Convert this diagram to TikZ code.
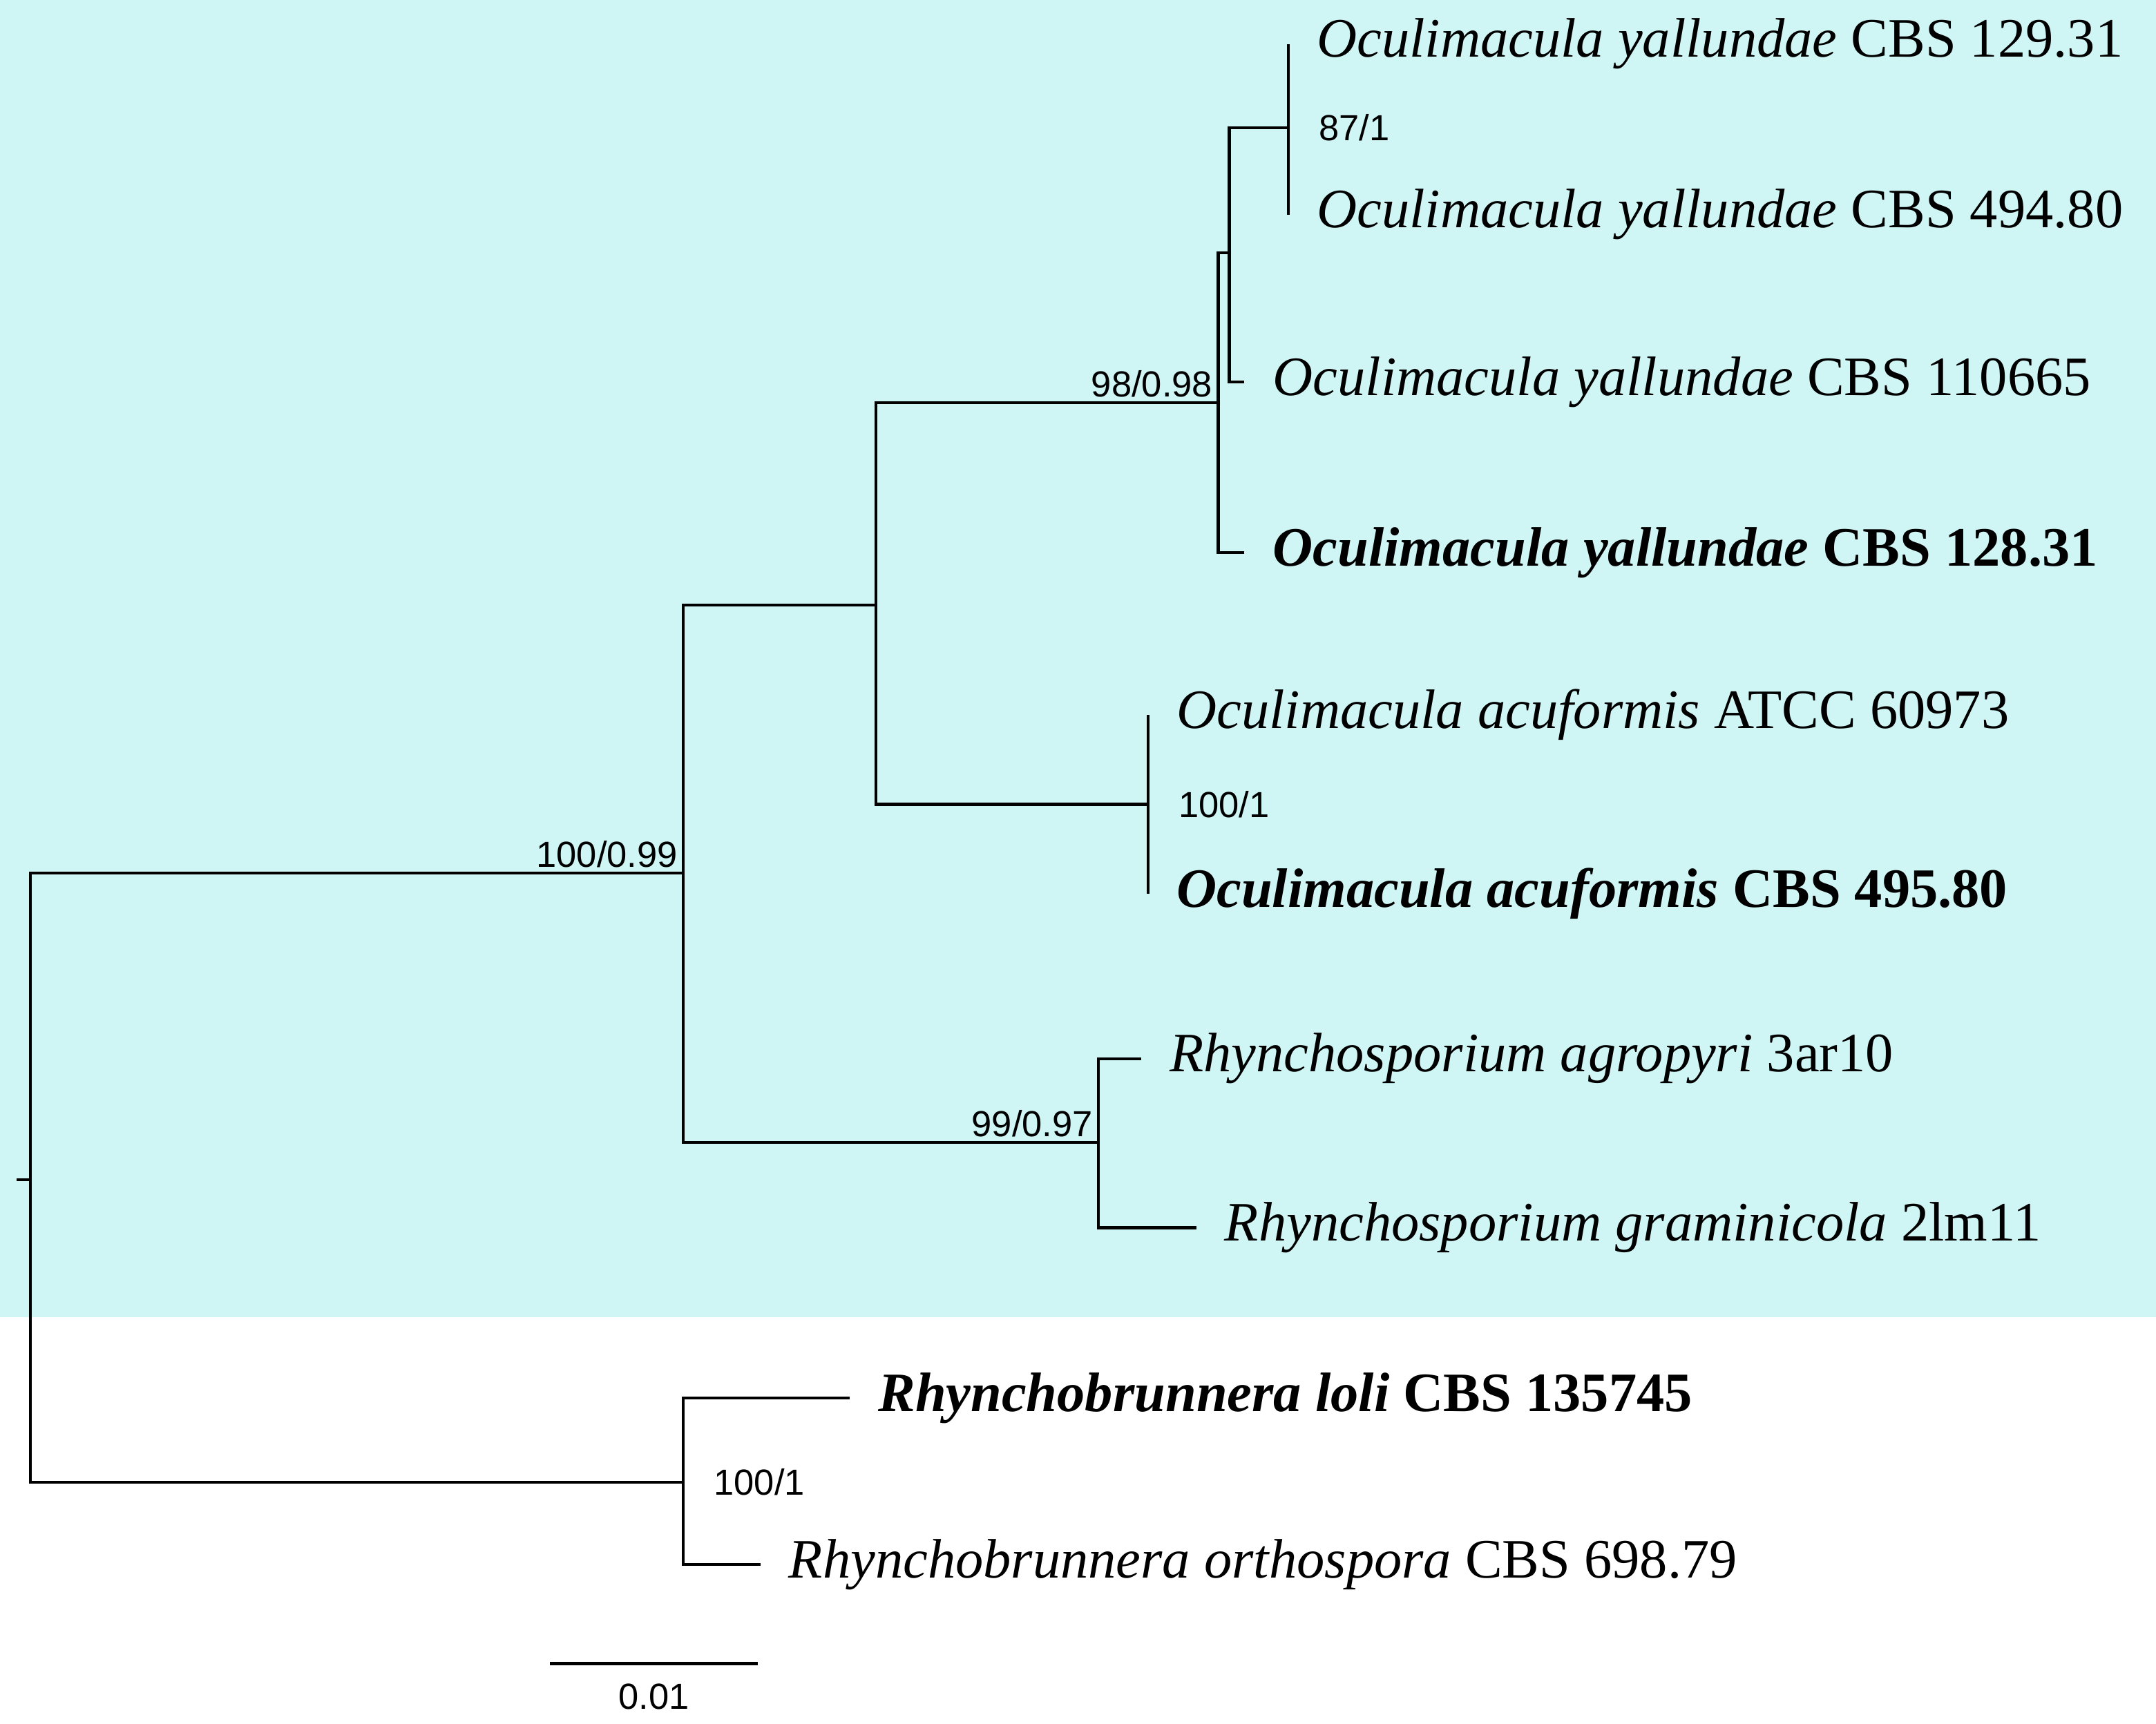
\documentclass[tikz,border=0pt]{standalone}
\usepackage{fontspec}
\setmainfont{Liberation Serif}
\setsansfont{Liberation Sans}
\usetikzlibrary{positioning,calc}
\definecolor{cladebg}{HTML}{CFF5F5}
\tikzset{
  leaf/.style={anchor=west, inner xsep=0.2cm, inner ysep=0pt, font=\fontsize{11.5}{13}\selectfont},
  supp/.style={font=\sffamily\fontsize{7.5}{9}\selectfont, inner sep=1pt},
  br/.style={line width=0.6pt}
}
\begin{document}
\begin{tikzpicture}[x=0.01cm, y=-0.01cm]
  \useasboundingbox (0,0) rectangle (1568,1254);
  \fill[cladebg] (0,0) rectangle (1568,958);

  % internal nodes
  \coordinate (root) at (22,858);
  \coordinate (nA) at (497,635);
  \coordinate (nB) at (637,440);
  \coordinate (nC) at (886,293);
  \coordinate (nD) at (894,184);
  \coordinate (nE) at (937,93);
  \coordinate (nF) at (835,585);
  \coordinate (nG) at (799,831);
  \coordinate (nH) at (497,1078);

  % leaves
  \node[leaf] (t1) at (937,32)  {\textit{Oculimacula yallundae} CBS 129.31};
  \node[leaf] (t2) at (937,156) {\textit{Oculimacula yallundae} CBS 494.80};
  \node[leaf] (t3) at (905,278) {\textit{Oculimacula yallundae} CBS 110665};
  \node[leaf] (t4) at (905,402) {\textbf{\textit{Oculimacula yallundae} CBS 128.31}};
  \node[leaf] (t5) at (835,520) {\textit{Oculimacula acuformis} ATCC 60973};
  \node[leaf] (t6) at (835,650) {\textbf{\textit{Oculimacula acuformis} CBS 495.80}};
  \node[leaf] (t7) at (830,770) {\textit{Rhynchosporium agropyri} 3ar10};
  \node[leaf] (t8) at (870,893) {\textit{Rhynchosporium graminicola} 2lm11};
  \node[leaf] (t9) at (618,1017) {\textbf{\textit{Rhynchobrunnera loli} CBS 135745}};
  \node[leaf] (t10) at (553,1138) {\textit{Rhynchobrunnera orthospora} CBS 698.79};

  % branches
  \draw[br] (12,858) -- (root);
  \draw[br] (root) |- (nA);
  \draw[br] (root) |- (nH);
  \draw[br] (nA) |- (nB);
  \draw[br] (nA) |- (nG);
  \draw[br] (nB) |- (nC);
  \draw[br] (nB) |- (nF);
  \draw[br] (nC) |- (nD);
  \draw[br] (nC) |- (t4.west);
  \draw[br] (nD) |- (nE);
  \draw[br] (nD) |- (t3.west);
  \draw[br] (nE |- t1.west) -- (nE |- t2.west);
  \draw[br] (nF |- t5.west) -- (nF |- t6.west);
  \draw[br] (nG) |- (t7.west);
  \draw[br] (nG) |- (t8.west);
  \draw[br] (nH) |- (t9.west);
  \draw[br] (nH) |- (t10.west);

  % support values
  \node[supp, anchor=south east] (s1) at (nA) {100/0.99};
  \node[supp, anchor=south east] (s2) at (nC) {98/0.98};
  \node[supp, anchor=south east] (s3) at (nG) {99/0.97};
  \node[supp, anchor=west] (s4) at (955,93) {87/1};
  \node[supp, anchor=west] (s5) at (853,585) {100/1};
  \node[supp, anchor=west] (s6) at (515,1078) {100/1};

  % scale bar
  \coordinate (sb1) at (400,1210);
  \coordinate (sb2) at (551,1210);
  \draw[br] (sb1) -- (sb2);
  \node[supp, below=3pt of {$(sb1)!0.5!(sb2)$}] (sbl) {0.01};
\end{tikzpicture}
\end{document}
